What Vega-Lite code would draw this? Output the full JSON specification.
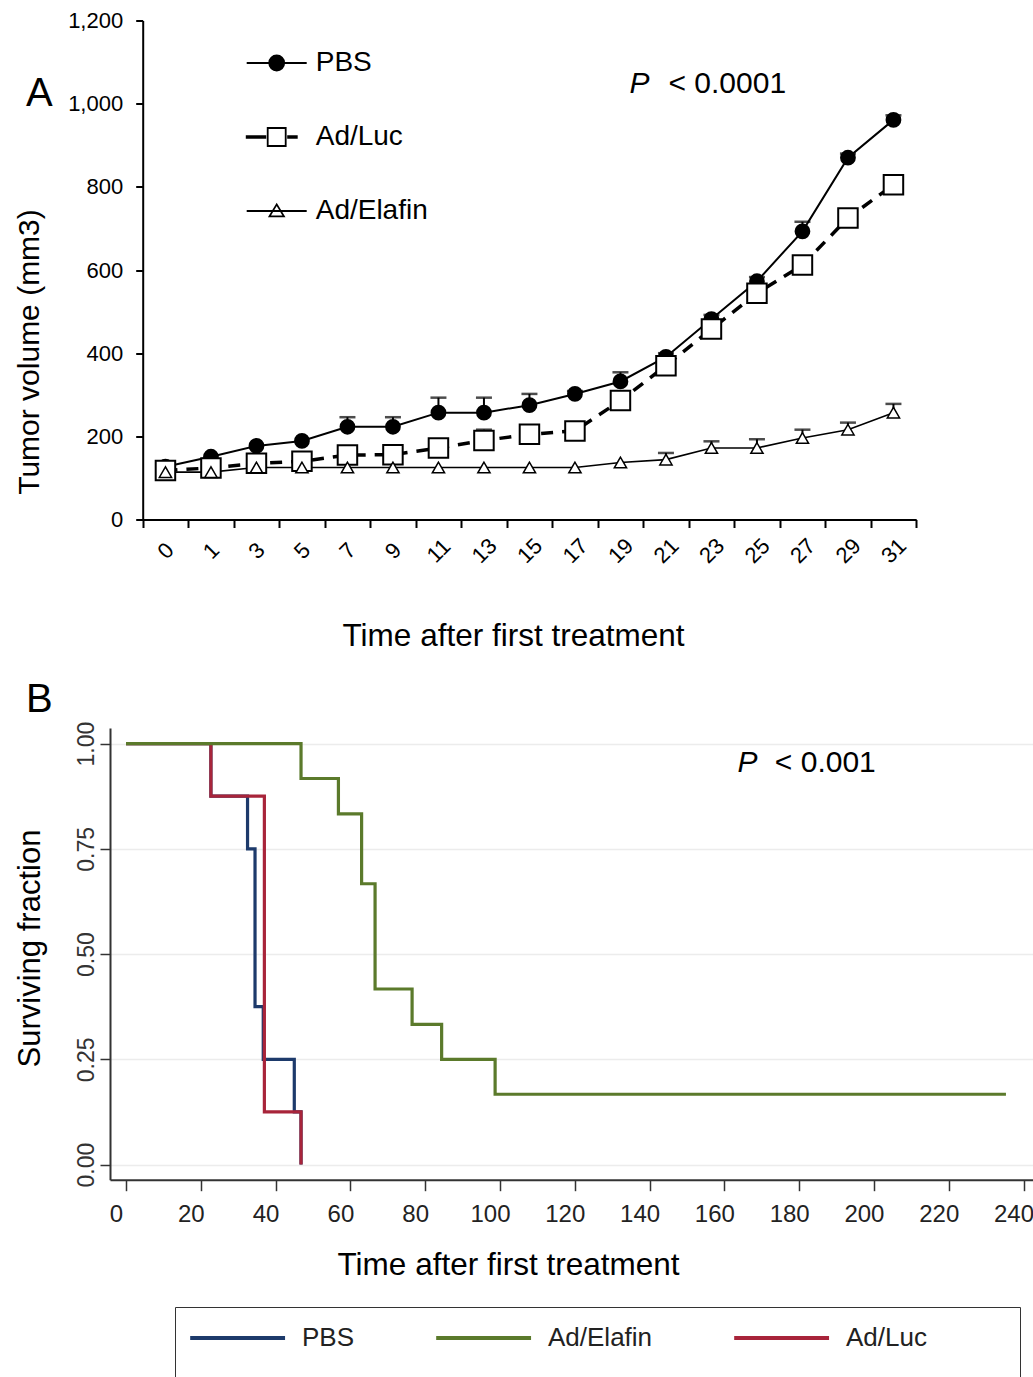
{
  "$schema": "https://vega.github.io/schema/vega-lite/v6.json",
  "background": "white",
  "padding": {"left": 14, "top": 9.5, "right": 0, "bottom": 0},
  "spacing": 26.5,
  "resolve": {"scale": {"color": "independent", "shape": "independent", "fill": "independent", "stroke": "independent"}},
  "config": {
    "view": {"stroke": null},
    "axis": {"grid": false, "labelFont": "Liberation Sans", "titleFont": "Liberation Sans", "titleFontWeight": "normal", "labelColor": "black", "titleColor": "black"}
  },
  "datasets": {
    "tumor": [
      {"day": "0", "group": "PBS", "volume": 127},
      {"day": "1", "group": "PBS", "volume": 151},
      {"day": "3", "group": "PBS", "volume": 177},
      {"day": "5", "group": "PBS", "volume": 189},
      {"day": "7", "group": "PBS", "volume": 223, "hi": 246},
      {"day": "9", "group": "PBS", "volume": 223, "hi": 246},
      {"day": "11", "group": "PBS", "volume": 257, "hi": 293},
      {"day": "13", "group": "PBS", "volume": 257, "hi": 293},
      {"day": "15", "group": "PBS", "volume": 275, "hi": 302},
      {"day": "17", "group": "PBS", "volume": 302, "hi": 309},
      {"day": "19", "group": "PBS", "volume": 332, "hi": 354},
      {"day": "21", "group": "PBS", "volume": 391, "hi": 400},
      {"day": "23", "group": "PBS", "volume": 482, "hi": 492},
      {"day": "25", "group": "PBS", "volume": 573, "hi": 583},
      {"day": "27", "group": "PBS", "volume": 693, "hi": 716},
      {"day": "29", "group": "PBS", "volume": 870, "hi": 880},
      {"day": "31", "group": "PBS", "volume": 961, "hi": 972},
      {"day": "0", "group": "Ad/Luc", "volume": 118},
      {"day": "1", "group": "Ad/Luc", "volume": 124},
      {"day": "3", "group": "Ad/Luc", "volume": 135},
      {"day": "5", "group": "Ad/Luc", "volume": 140},
      {"day": "7", "group": "Ad/Luc", "volume": 155},
      {"day": "9", "group": "Ad/Luc", "volume": 156},
      {"day": "11", "group": "Ad/Luc", "volume": 172},
      {"day": "13", "group": "Ad/Luc", "volume": 190, "hi": 216},
      {"day": "15", "group": "Ad/Luc", "volume": 205},
      {"day": "17", "group": "Ad/Luc", "volume": 213},
      {"day": "19", "group": "Ad/Luc", "volume": 286},
      {"day": "21", "group": "Ad/Luc", "volume": 370},
      {"day": "23", "group": "Ad/Luc", "volume": 458},
      {"day": "25", "group": "Ad/Luc", "volume": 544},
      {"day": "27", "group": "Ad/Luc", "volume": 612},
      {"day": "29", "group": "Ad/Luc", "volume": 725},
      {"day": "31", "group": "Ad/Luc", "volume": 805},
      {"day": "0", "group": "Ad/Elafin", "volume": 114},
      {"day": "1", "group": "Ad/Elafin", "volume": 114},
      {"day": "3", "group": "Ad/Elafin", "volume": 125},
      {"day": "5", "group": "Ad/Elafin", "volume": 125},
      {"day": "7", "group": "Ad/Elafin", "volume": 125},
      {"day": "9", "group": "Ad/Elafin", "volume": 125},
      {"day": "11", "group": "Ad/Elafin", "volume": 125},
      {"day": "13", "group": "Ad/Elafin", "volume": 125},
      {"day": "15", "group": "Ad/Elafin", "volume": 125},
      {"day": "17", "group": "Ad/Elafin", "volume": 125},
      {"day": "19", "group": "Ad/Elafin", "volume": 137},
      {"day": "21", "group": "Ad/Elafin", "volume": 144, "hi": 160},
      {"day": "23", "group": "Ad/Elafin", "volume": 172, "hi": 188},
      {"day": "25", "group": "Ad/Elafin", "volume": 172, "hi": 193},
      {"day": "27", "group": "Ad/Elafin", "volume": 196, "hi": 216},
      {"day": "29", "group": "Ad/Elafin", "volume": 216, "hi": 233},
      {"day": "31", "group": "Ad/Elafin", "volume": 257, "hi": 278}
    ],
    "surv": [
      {"group": "PBS", "time": 0, "surv": 1},
      {"group": "PBS", "time": 22.7, "surv": 0.875},
      {"group": "PBS", "time": 32.5, "surv": 0.75},
      {"group": "PBS", "time": 34.5, "surv": 0.375},
      {"group": "PBS", "time": 36.7, "surv": 0.25},
      {"group": "PBS", "time": 45.0, "surv": 0.125},
      {"group": "PBS", "time": 46.8, "surv": 0},
      {"group": "Ad/Luc", "time": 0, "surv": 1},
      {"group": "Ad/Luc", "time": 22.7, "surv": 0.875},
      {"group": "Ad/Luc", "time": 37.0, "surv": 0.125},
      {"group": "Ad/Luc", "time": 46.8, "surv": 0},
      {"group": "Ad/Elafin", "time": 0, "surv": 1},
      {"group": "Ad/Elafin", "time": 46.8, "surv": 0.917},
      {"group": "Ad/Elafin", "time": 56.8, "surv": 0.833},
      {"group": "Ad/Elafin", "time": 63.0, "surv": 0.667},
      {"group": "Ad/Elafin", "time": 66.6, "surv": 0.417},
      {"group": "Ad/Elafin", "time": 76.5, "surv": 0.333},
      {"group": "Ad/Elafin", "time": 84.4, "surv": 0.25},
      {"group": "Ad/Elafin", "time": 98.7, "surv": 0.167},
      {"group": "Ad/Elafin", "time": 235.3, "surv": 0.167}
    ]
  },
  "vconcat": [
    {
      "width": 806.2,
      "height": 499,
      "data": {"name": "tumor"},
      "title": {"text": "A", "anchor": "start", "frame": "group", "offset": -136.5, "dx": -84, "fontSize": 40, "fontWeight": "normal", "color": "black", "baseline": "alphabetic", "font": "Liberation Sans"},
      "encoding": {
        "x": {
          "field": "day", "type": "ordinal",
          "scale": {"type": "band", "domain": ["0","1","3","5","7","9","11","13","15","17","19","21","23","25","27","29","31"], "range": [32.7, 806.2], "paddingInner": 0, "paddingOuter": 0},
          "axis": {"title": "Time after first treatment", "titleFontSize": 31.5, "titleX": 403, "titleY": 101, "titleBaseline": "top", "labelAngle": -45, "labelAlign": "center", "labelBaseline": "middle", "labelPadding": 23, "labelFontSize": 22, "tickBand": "extent", "tickSize": 8, "tickWidth": 2, "tickColor": "black", "domainColor": "black", "domainWidth": 2}
        },
        "y": {
          "field": "volume", "type": "quantitative",
          "scale": {"domain": [0, 1200], "nice": false},
          "axis": {"title": "Tumor volume (mm3)", "offset": -32.7, "values": [0, 200, 400, 600, 800, 1000, 1200], "format": ",d", "titleFontSize": 30, "titlePadding": 23, "titleY": 331, "labelFontSize": 22, "labelPadding": 13, "tickSize": 7, "tickWidth": 2, "tickColor": "black", "domainColor": "black", "domainWidth": 2}
        }
      },
      "layer": [
        {"transform": [{"filter": "datum.group == 'Ad/Elafin'"}], "mark": {"type": "line", "color": "black", "strokeWidth": 1.6}},
        {"transform": [{"filter": "datum.group == 'PBS'"}], "mark": {"type": "line", "color": "black", "strokeWidth": 2}},
        {"transform": [{"filter": "datum.group == 'Ad/Luc'"}], "mark": {"type": "line", "color": "black", "strokeWidth": 3.5, "strokeDash": [12, 9]}},
        {"transform": [{"filter": "isValid(datum.hi)"}], "mark": {"type": "rule", "color": "black", "strokeWidth": 2}, "encoding": {"y2": {"field": "hi"}}},
        {"transform": [{"filter": "isValid(datum.hi)"}], "mark": {"type": "tick", "color": "black", "size": 16, "thickness": 2.5}, "encoding": {"y": {"field": "hi", "type": "quantitative"}}},
        {"transform": [{"filter": "datum.group == 'PBS'"}], "mark": {"type": "point", "shape": "circle", "filled": true, "fill": "black", "stroke": "black", "size": 190, "opacity": 1}},
        {"transform": [{"filter": "datum.group == 'Ad/Luc'"}], "mark": {"type": "point", "shape": "square", "filled": true, "fill": "white", "stroke": "black", "strokeWidth": 2, "size": 380, "opacity": 1}},
        {"transform": [{"filter": "datum.group == 'Ad/Elafin'"}], "mark": {"type": "point", "shape": "triangle-up", "filled": true, "fill": "white", "stroke": "black", "strokeWidth": 1.5, "size": 150, "opacity": 1}},
        {
          "transform": [{"filter": "datum.volume < 0"}],
          "mark": {"type": "point", "filled": true, "strokeWidth": 1.8, "opacity": 1},
          "encoding": {
            "shape": {"field": "group", "type": "nominal",
              "scale": {"domain": ["PBS", "Ad/Luc", "Ad/Elafin"], "range": ["M-1,0H1M-0.25,0A0.25,0.25 0 1,0 0.25,0A0.25,0.25 0 1,0 -0.25,0Z", "M-1,-0.025H-0.38V0.025H-1ZM-0.3,-0.3H0.3V0.3H-0.3ZM0.38,-0.025H0.67V0.025H0.38Z", "M-1,0H1M0,-0.22L0.24,0.18H-0.24Z"]},
              "legend": {"title": null, "orient": "none", "legendX": 135.7, "legendY": 11.5, "padding": 0, "symbolSize": 3600, "symbolStrokeWidth": 1.8, "labelFont": "Liberation Sans", "labelFontSize": 28, "labelColor": "black", "labelOffset": 8, "rowPadding": 29}},
            "fill": {"field": "group", "type": "nominal",
              "scale": {"domain": ["PBS", "Ad/Luc", "Ad/Elafin"], "range": ["black", "white", "white"]},
              "legend": {"title": null, "orient": "none", "legendX": 135.7, "legendY": 11.5, "padding": 0, "symbolSize": 3600, "symbolStrokeWidth": 1.8, "labelFont": "Liberation Sans", "labelFontSize": 28, "labelColor": "black", "labelOffset": 8, "rowPadding": 29}},
            "stroke": {"field": "group", "type": "nominal",
              "scale": {"domain": ["PBS", "Ad/Luc", "Ad/Elafin"], "range": ["black", "black", "black"]},
              "legend": {"title": null, "orient": "none", "legendX": 135.7, "legendY": 11.5, "padding": 0, "symbolSize": 3600, "symbolStrokeWidth": 1.8, "labelFont": "Liberation Sans", "labelFontSize": 28, "labelColor": "black", "labelOffset": 8, "rowPadding": 29}}
          }
        },
        {
          "transform": [{"filter": "datum.group == 'PBS' && datum.day == '0'"}],
          "mark": {"type": "text", "text": "P", "font": "Liberation Sans", "fontStyle": "italic", "fontSize": 30, "align": "left", "baseline": "middle", "dx": 9, "fill": "black"},
          "encoding": {"x": {"datum": "19"}, "y": {"datum": 1048}}
        },
        {
          "transform": [{"filter": "datum.group == 'PBS' && datum.day == '0'"}],
          "mark": {"type": "text", "text": "< 0.0001", "font": "Liberation Sans", "fontSize": 30, "align": "left", "baseline": "middle", "dx": 48, "fill": "black"},
          "encoding": {"x": {"datum": "19"}, "y": {"datum": 1048}}
        }
      ]
    },
    {
      "width": 924,
      "height": 451.7,
      "data": {"name": "surv"},
      "title": {"text": "B", "anchor": "start", "frame": "group", "offset": -30.5, "dx": -84, "fontSize": 40, "fontWeight": "normal", "color": "black", "baseline": "alphabetic", "font": "Liberation Sans"},
      "encoding": {
        "x": {
          "field": "time", "type": "quantitative",
          "scale": {"domain": [-4.28, 242.8], "nice": false, "zero": false},
          "axis": {"title": "Time after first treatment", "values": [0, 20, 40, 60, 80, 100, 120, 140, 160, 180, 200, 220, 240], "titleFontSize": 31.5, "titleX": 398, "titleY": 70, "titleBaseline": "top", "labelFontSize": 24, "labelColor": "#222", "labelPadding": 12, "labelOffset": -10, "tickSize": 11, "tickWidth": 1.5, "tickColor": "#333", "domainColor": "#333", "domainWidth": 2}
        },
        "y": {
          "field": "surv", "type": "quantitative",
          "scale": {"domain": [-0.036, 1.037], "nice": false, "zero": false},
          "axis": {"title": "Surviving fraction", "values": [0, 0.25, 0.5, 0.75, 1], "format": ".2f", "grid": true, "gridColor": "#ececec", "gridWidth": 1.5, "labelAngle": -90, "labelAlign": "center", "labelBaseline": "bottom", "labelFontSize": 23, "labelColor": "#333", "labelPadding": 2, "tickSize": 10, "tickWidth": 1.5, "tickColor": "#333", "domainColor": "#333", "domainWidth": 2, "titleFontSize": 31, "titlePadding": 29, "titleY": 220}
        }
      },
      "layer": [
        {"transform": [{"filter": "datum.group == 'PBS'"}], "mark": {"type": "line", "interpolate": "step-after", "strokeWidth": 3.2},
         "encoding": {"color": {"field": "group", "type": "nominal",
          "scale": {"domain": ["PBS", "Ad/Elafin", "Ad/Luc"], "range": ["#1d3a6b", "#5b7a2b", "#a8243a"]},
          "legend": {"title": "\u00a0", "titleOrient": "bottom", "titleFontSize": 40, "orient": "none", "legendX": 65, "legendY": 579, "direction": "horizontal", "symbolType": "M-1,0H5", "symbolSize": 1000, "symbolStrokeWidth": 4, "labelOffset": 78, "columnPadding": 73, "padding": 13, "strokeColor": "#333", "labelFont": "Liberation Sans", "labelFontSize": 26, "labelColor": "#222", "labelLimit": 400, "labelExpr": "datum.label == 'Ad/Luc' ? datum.label + '\u00a0\u00a0\u00a0\u00a0\u00a0\u00a0\u00a0\u00a0\u00a0\u00a0\u00a0\u200b' : datum.label"}}}},
        {"transform": [{"filter": "datum.group == 'Ad/Luc'"}], "mark": {"type": "line", "interpolate": "step-after", "strokeWidth": 3.2}, "encoding": {"color": {"field": "group", "type": "nominal"}}},
        {"transform": [{"filter": "datum.group == 'Ad/Elafin'"}], "mark": {"type": "line", "interpolate": "step-after", "strokeWidth": 3.2}, "encoding": {"color": {"field": "group", "type": "nominal"}}},
        {
          "transform": [{"filter": "datum.group == 'PBS' && datum.time == 0"}],
          "mark": {"type": "text", "text": "P", "font": "Liberation Sans", "fontStyle": "italic", "fontSize": 30, "align": "left", "baseline": "middle", "fill": "black"},
          "encoding": {"x": {"datum": 163.5}, "y": {"datum": 0.955}}
        },
        {
          "transform": [{"filter": "datum.group == 'PBS' && datum.time == 0"}],
          "mark": {"type": "text", "text": "< 0.001", "font": "Liberation Sans", "fontSize": 30, "align": "left", "baseline": "middle", "fill": "black"},
          "encoding": {"x": {"datum": 173.5}, "y": {"datum": 0.955}}
        }
      ]
    }
  ]
}
